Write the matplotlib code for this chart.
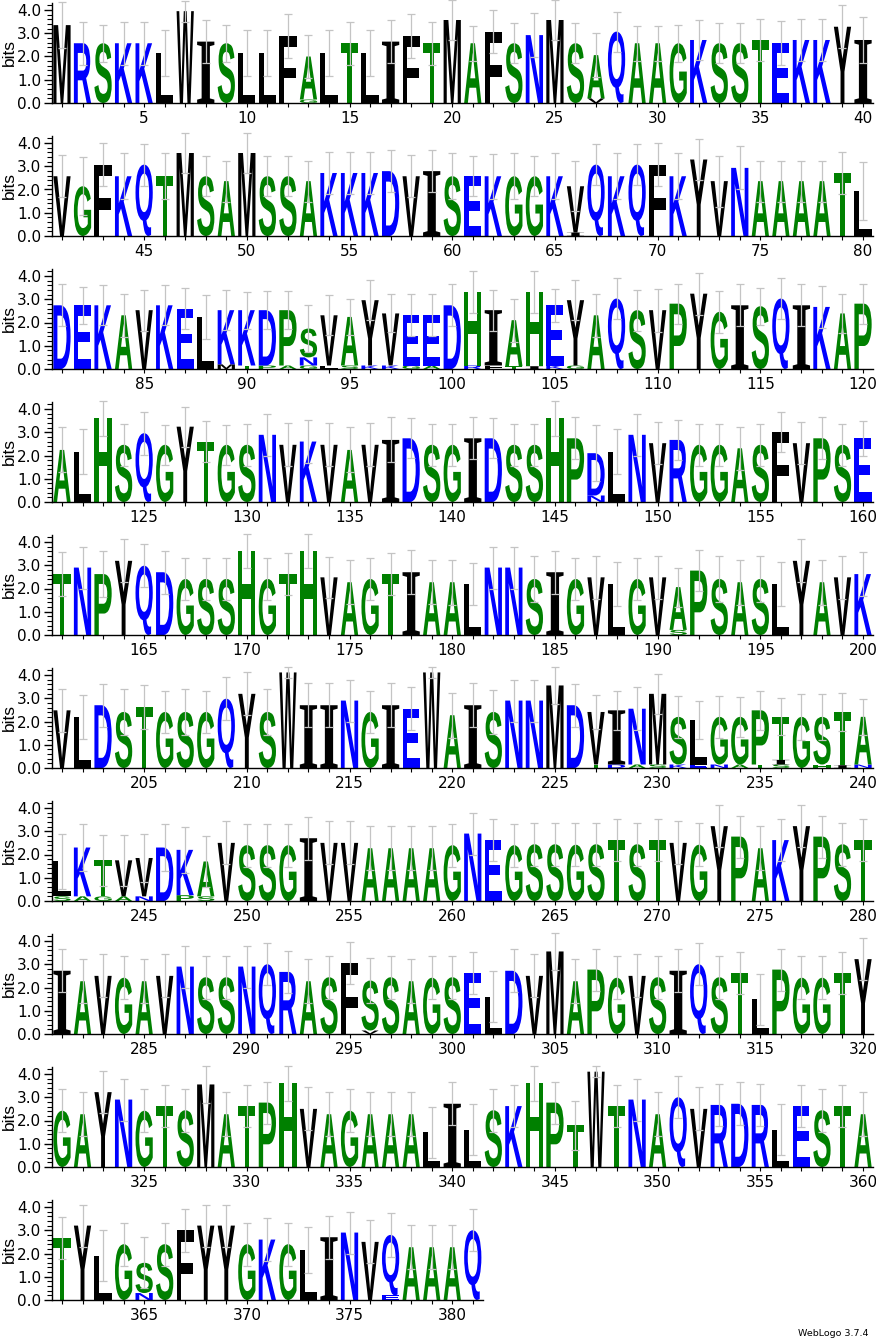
import matplotlib
matplotlib.use('Agg')
import matplotlib.pyplot as plt
from matplotlib.textpath import TextPath
from matplotlib.patches import PathPatch
from matplotlib.font_manager import FontProperties
from matplotlib.transforms import Affine2D

# dominant (top) residue of every position, 1..381
main_letters = (
    "MRSKKLWISLLFALTLIFTMAFSNMSAQAAGKSSTEKKYI"
    "VGFKQTMSAMSSAKKKDVISEKGGKVQKQFKYVNAAAATL"
    "DEKAVKELKKDPSVAYVEEDHIAHEYAQSVPYGISQIKAP"
    "ALHSQGYTGSNVKVAVIDSGIDSSHPDLNVRGGASFVPSE"
    "TNPYQDGSSHGTHVAGTIAALNNSIGVLGVAPSASLYAVK"
    "VLDSTGSGQYSWIINGIEWAISNNMDVINMSLGGPTGSTA"
    "LKTVVDKAVSSGIVVAAAAGNEGSSGSTSTVGYPAKYPST"
    "IAVGAVNSSNQRASFSSAGSELDVMAPGVSIQSTLPGGTY"
    "GAYNGTSMATPHVAGAAALILSKHPTWTNAQVRDRLESTA"
    "TYLGSSFYYGKGLINVQAAAQ"
)

# total stack height (bits) of every position
stack_heights = [
    3.35, 2.57, 2.57, 2.57, 2.57, 2.14, 3.95, 2.64, 2.57, 2.14, 2.14, 2.88, 2.0, 2.14, 2.57, 2.14, 2.64, 2.88, 2.57, 3.57,
    2.57, 3.07, 2.57, 2.92, 3.57, 2.57, 2.06, 3.07, 2.57, 2.57, 2.57, 2.71, 2.57, 2.57, 2.71, 2.57, 2.71, 2.71, 3.28, 2.71,
    2.57, 2.14, 3.07, 2.57, 3.07, 2.57, 3.57, 2.57, 2.36, 3.57, 2.57, 2.57, 2.36, 2.71, 2.71, 2.71, 2.79, 2.57, 2.79, 2.57,
    2.57, 2.57, 2.57, 2.57, 2.57, 2.14, 3.07, 2.57, 3.07, 3.07, 2.57, 3.29, 2.36, 2.93, 2.36, 2.36, 2.36, 2.36, 2.71, 1.93,
    2.74, 2.74, 2.74, 2.31, 2.53, 2.74, 2.6, 2.24, 2.53, 2.53, 2.53, 2.53, 1.74, 2.31, 2.24, 2.96, 2.39, 2.31, 2.31, 2.74,
    3.31, 2.53, 2.1, 3.31, 2.74, 2.96, 2.31, 3.03, 2.53, 2.53, 2.81, 3.24, 2.46, 2.74, 2.7, 3.03, 2.74, 2.67, 2.39, 2.81,
    2.24, 2.17, 3.6, 2.46, 2.96, 2.46, 3.24, 2.6, 2.46, 2.46, 2.89, 2.46, 2.6, 2.46, 2.24, 2.46, 2.67, 2.74, 2.46, 2.46,
    2.74, 2.74, 2.46, 2.46, 3.6, 2.74, 2.1, 2.17, 2.89, 2.53, 2.67, 2.46, 2.46, 2.31, 2.46, 3.03, 2.53, 2.74, 2.46, 2.74,
    2.62, 2.9, 2.62, 3.19, 2.98, 2.7, 2.41, 2.41, 2.41, 3.62, 2.41, 2.62, 3.62, 2.48, 2.27, 2.41, 2.62, 2.7, 2.27, 2.27,
    2.2, 2.9, 2.9, 2.41, 2.7, 2.41, 2.48, 2.2, 2.41, 2.48, 2.06, 2.77, 2.41, 2.27, 2.41, 2.2, 3.19, 2.27, 2.48, 2.62,
    2.48, 2.2, 2.7, 2.41, 2.62, 2.41, 2.41, 2.41, 2.98, 3.19, 2.41, 4.11, 2.7, 2.7, 2.9, 2.41, 2.7, 2.55, 4.11, 2.27,
    2.7, 2.41, 2.9, 2.9, 3.55, 2.7, 2.41, 2.48, 2.55, 3.19, 2.2, 2.06, 2.2, 2.2, 2.48, 2.2, 2.2, 2.2, 2.41, 2.2,
    1.7, 2.3, 1.75, 1.75, 1.85, 2.3, 2.2, 1.7, 2.5, 2.4, 2.4, 2.4, 2.7, 2.5, 2.5, 2.27, 2.27, 2.27, 2.27, 2.4,
    2.9, 2.62, 2.4, 2.44, 2.44, 2.42, 2.44, 2.62, 2.44, 2.62, 2.5, 2.42, 3.22, 2.77, 2.27, 2.62, 3.22, 2.77, 2.44, 2.62,
    2.72, 2.27, 2.5, 2.42, 2.27, 2.5, 2.9, 2.44, 2.44, 2.9, 3.0, 2.67, 2.27, 2.44, 3.05, 2.3, 2.44, 2.27, 2.42, 2.44,
    2.62, 1.6, 2.72, 2.5, 3.55, 2.27, 2.77, 2.42, 2.5, 2.44, 2.72, 3.0, 2.44, 2.62, 1.5, 2.77, 2.42, 2.42, 2.62, 3.22,
    2.42, 2.27, 3.22, 2.9, 2.42, 2.62, 2.44, 3.55, 2.27, 2.62, 2.77, 3.6, 2.5, 2.27, 2.42, 2.27, 2.27, 2.27, 1.5, 2.72,
    1.6, 2.44, 2.62, 3.6, 2.77, 1.8, 4.1, 2.62, 2.9, 2.27, 3.0, 2.5, 2.67, 2.72, 2.67, 1.6, 2.62, 2.44, 2.62, 2.27,
    2.67, 3.2, 1.9, 2.4, 1.6, 2.4, 3.0, 3.2, 3.2, 2.4, 2.6, 2.4, 2.15, 2.7, 2.9, 2.5, 2.8, 2.27, 2.27, 2.27,
    3.0,
]

# error bar half-length (bits) of every position
errors = [
    1.0, .93, .8, .93, .93, 1.0, .45, .93, .8, 1.0, 1.0, .95, .92, 1.0, .93, 1.0, .93, .95, .93, .86,
    .75, .93, .86, .94, .86, .86, .96, .86, .75, .75, .8, .86, .86, .86, .89, .95, .89, .89, .93, 1.0,
    .9, 1.25, .93, 1.0, .9, 1.0, .86, .86, .88, .86, .86, .86, .88, .9, .9, .9, .9, .9, .9, 1.0,
    .86, .96, 1.0, .85, 1.0, 1.07, .89, 1.0, .89, .93, 1.0, .9, 1.1, .93, .88, .88, .88, .88, .9, 1.25,
    .9, .8, .86, .93, .88, .86, .9, .93, .86, .8, .83, .83, 1.03, .86, .78, .85, .82, .9, .9, .9,
    .9, .88, .93, .9, .7, .85, .93, .9, .88, .93, .86, .9, .9, .9, .8, .9, .9, .89, .85, .86,
    .97, .96, .76, .9, .93, .85, .86, .9, .85, .9, .9, .93, .93, .93, .97, .93, .97, .86, .9, .9,
    .9, .86, .9, .9, .76, .9, 1.2, .96, .9, .9, .86, .9, .9, .93, .9, .86, .9, .9, .9, .75,
    .93, .9, 1.0, .92, .92, .92, .92, .92, .92, .72, .92, .92, .72, .88, .95, .92, .92, .95, .95, .97,
    .9, .9, .9, .97, .92, .92, .92, .94, .92, .92, .84, .89, .97, .97, .97, .94, .92, .97, .92, .93,
    .92, .95, .92, .97, .93, .92, .97, .92, .92, .92, .97, .22, .95, .95, .9, .92, .95, .93, .22, .96,
    .95, .95, .9, .9, .78, .92, .74, .85, .93, .85, .89, .81, .89, .85, .85, .8, 1.0, 1.0, .82, .78,
    1.2, 1.0, 1.1, 1.1, 1.05, 1.0, 1.0, 1.1, .92, .92, .92, .92, .92, .92, .92, .95, .95, .95, .95, .92,
    .9, .92, .92, .92, .92, .92, .92, .92, .92, .92, .92, .92, .9, .9, .95, .92, .9, .9, .92, .92,
    .92, .95, .92, .92, .95, .92, .9, .92, .92, .9, .9, .9, .95, .92, .9, .95, .92, .95, .92, .92,
    .92, 1.1, .92, .92, .78, .95, .9, .92, .92, .92, .92, .9, .92, .92, 1.1, .9, .92, .92, .92, .9,
    .92, .95, .9, .9, .92, .92, .92, .78, .95, .92, .9, .75, .92, .95, .92, .95, .95, .95, 1.1, .92,
    1.1, .92, .92, .75, .9, 1.05, .25, .92, .9, .95, .9, .92, .9, .92, .9, 1.1, .92, .92, .92, .95,
    .92, .9, 1.1, .92, 1.1, .92, .92, .9, .9, .92, .92, .92, 1.0, .92, .9, .92, .95, .95, .95, .95,
    .9,
]

# small residues stacked under the dominant one: position -> [(letter, bits), ...] bottom first
minor_letters = {
    13: [('G', 0.15)], 27: [('V', 0.2)], 66: [('I', 0.15)],
    89: [('M', 0.2)], 90: [('T', 0.15)], 91: [('P', 0.15)], 92: [('A', 0.15)],
    93: [('G', 0.15), ('N', 0.35)], 94: [('L', 0.15)], 95: [('S', 0.15)], 96: [('K', 0.15)],
    97: [('K', 0.15)], 98: [('G', 0.15)], 99: [('A', 0.15)], 101: [('R', 0.15)],
    102: [('F', 0.15)], 103: [('T', 0.12)], 104: [('I', 0.12)], 105: [('K', 0.15)],
    106: [('G', 0.15)], 147: [('N', 0.28)], 191: [('S', 0.22)],
    227: [('T', 0.15)], 228: [('D', 0.15)], 229: [('A', 0.15)], 230: [('S', 0.15)],
    231: [('K', 0.15)], 232: [('E', 0.15)], 233: [('N', 0.15)], 234: [('A', 0.15)],
    235: [('T', 0.15)], 236: [('S', 0.15), ('I', 0.2)], 238: [('H', 0.15)],
    239: [('I', 0.12)], 240: [('N', 0.15)],
    241: [('S', 0.2)], 242: [('A', 0.2)], 243: [('G', 0.2)], 244: [('A', 0.2)],
    245: [('N', 0.2)], 247: [('P', 0.25)], 248: [('S', 0.2)],
    296: [('V', 0.15)], 365: [('N', 0.3)], 377: [('E', 0.2)],
}

colors = {}
for c in "RKDENQ":
    colors[c] = '#0000ff'
for c in "SGHTAP":
    colors[c] = '#008000'
for c in "YVMCLFIW":
    colors[c] = '#000000'

SANS = FontProperties(family='Liberation Sans', weight='bold')
SERIF = FontProperties(family='Liberation Serif', weight='bold')


def draw_letter(ax, ch, x, y0, h, width=0.84):
    fp = SERIF if ch == 'I' else SANS
    tp = TextPath((0, 0), ch, size=1, prop=fp)
    bb = tp.get_extents()
    t = (Affine2D().translate(-bb.x0, -bb.y0)
         .scale(width / bb.width, h / bb.height)
         .translate(x - width / 2, y0))
    ax.add_patch(PathPatch(t.transform_path(tp), fc=colors[ch], ec='none', lw=0))


W, H = 876, 1339
slot = 20.54
x_left = 51.7
px_bit = 23.25
ymax = 4.32

fig = plt.figure(figsize=(W / 100, H / 100), dpi=100)
n_total = len(main_letters)

for r in range(10):
    start = r * 40 + 1
    end = min(start + 39, n_total)
    n = end - start + 1
    base_y = 103 + 133 * r
    ax = fig.add_axes([x_left / W, 1 - base_y / H, n * slot / W, ymax * px_bit / H])
    ax.set_xlim(start - 0.5, end + 0.5)
    ax.set_ylim(0, ymax)

    xs, tops, errs = [], [], []
    for p in range(start, end + 1):
        y = 0.0
        for ch, h in minor_letters.get(p, []):
            draw_letter(ax, ch, p, y, h)
            y += h
        top = stack_heights[p - 1]
        draw_letter(ax, main_letters[p - 1], p, y, top - y)
        xs.append(p)
        tops.append(top)
        errs.append(errors[p - 1])

    ax.errorbar(xs, tops, yerr=errs, fmt='none', ecolor='#c4c4c4',
                elinewidth=0.9, capsize=2.6, capthick=0.9, zorder=5, clip_on=False)

    for s in ['top', 'right']:
        ax.spines[s].set_visible(False)
    for s in ['left', 'bottom']:
        ax.spines[s].set_linewidth(1.0)

    ticks = list(range(start, end + 1))
    ax.set_xticks(ticks)
    ax.set_xticklabels([str(p) if p % 5 == 0 else '' for p in ticks])
    ax.set_yticks([0, 1, 2, 3, 4])
    ax.set_yticklabels(['0.0', '1.0', '2.0', '3.0', '4.0'])
    ax.set_yticks([i * 0.2 for i in range(22) if i % 5 != 0], minor=True)
    ax.tick_params(axis='y', which='major', length=6, width=1, pad=1.5,
                   labelsize=11, direction='out')
    ax.tick_params(axis='y', which='minor', length=3.5, width=0.8, direction='out')
    ax.tick_params(axis='x', which='major', length=3, width=0.8, pad=3,
                   labelsize=11, direction='out')
    for lab in ax.get_xticklabels() + ax.get_yticklabels():
        lab.set_fontfamily('DejaVu Sans')

    fig.text(9.5 / W, 1 - (base_y - ymax * px_bit / 2) / H, 'bits', rotation=90,
             ha='center', va='center', fontsize=12.5, family='Liberation Sans')

fig.text(868 / W, 1 - 1333 / H, 'WebLogo 3.7.4', ha='right', va='center',
         fontsize=6.8, family='DejaVu Sans')

fig.savefig('out.png', dpi=100)
